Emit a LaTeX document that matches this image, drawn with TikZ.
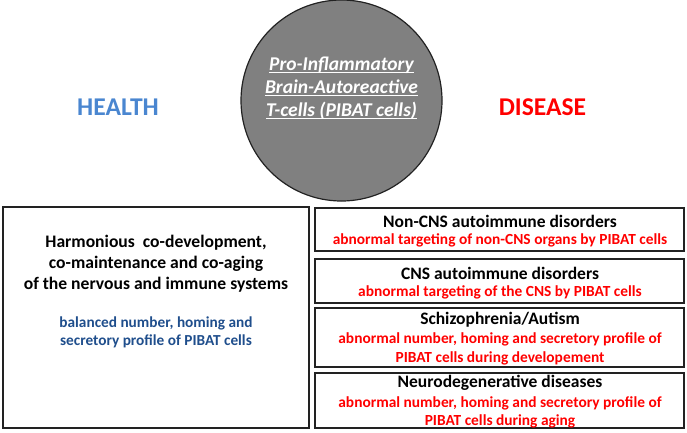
\documentclass[tikz,border=0pt]{standalone}
\usepackage{fontspec}
\setmainfont{Carlito}
\newcommand{\ulx}[1]{{\setbox0\hbox{#1}\rlap{\rule[-2.6pt]{\wd0}{1.1pt}}\box0}}
\definecolor{hblue}{HTML}{4A86D0}
\definecolor{dred}{HTML}{FF0000}
\definecolor{nblue}{HTML}{1F4E8C}
\definecolor{cgray}{HTML}{808080}
\definecolor{bord}{HTML}{222222}
\begin{document}
\begin{tikzpicture}[x=1pt,y=-1pt,
  box/.style={draw=bord,line width=1.8pt},
  ttl/.style={font=\bfseries\fontsize{17.5}{20}\selectfont,align=center,inner sep=0pt},
  redt/.style={font=\bfseries\fontsize{15.4}{18.5}\selectfont,text=dred,align=center,inner sep=0pt},
]
\useasboundingbox (0,0) rectangle (687,432);
% circle
\node[circle,draw=bord,line width=1.2pt,fill=cgray,minimum size=201pt,inner sep=0pt] (c) at (341.5,100.5) {};
\node[font=\bfseries\itshape\fontsize{19.5}{23}\selectfont,text=white,align=center,inner sep=0pt] (ct) at (341.5,88.5)
  {\ulx{Pro-Inflammatory}\\ \ulx{Brain-Autoreactive}\\ \ulx{T-cells (PIBAT cells)}};
% labels
\node[font=\bfseries\fontsize{25.6}{30}\selectfont,text=hblue,inner sep=0pt] (h) at (118,107) {HEALTH};
\node[font=\bfseries\fontsize{25.6}{30}\selectfont,text=dred,inner sep=0pt] (d) at (542.5,107) {DISEASE};
% left box
\draw[box] (3,207) rectangle (309,428);
\node[ttl,font=\bfseries\fontsize{17.6}{20.7}\selectfont] (lt) at (156,263.5) {Harmonious\ \ co-development,\\co-maintenance and co-aging\\of the nervous and immune systems};
\node[font=\bfseries\fontsize{15.3}{18}\selectfont,text=nblue,align=center,inner sep=0pt] (lb) at (156,332) {balanced number, homing and\\secretory profile of PIBAT cells};
% right boxes
\draw[box] (315,208) rectangle (684,251);
\draw[box] (315,259) rectangle (684,303);
\draw[box] (315,308) rectangle (684,367);
\draw[box] (315,373) rectangle (684,428);
\node[ttl] (t1) at (500,221) {Non-CNS autoimmune disorders};
\node[redt] (r1) at (500,240) {abnormal targeting of non-CNS organs by PIBAT cells};
\node[ttl] (t2) at (500,273) {CNS autoimmune disorders};
\node[redt] (r2) at (500,292) {abnormal targeting of the CNS by PIBAT cells};
\node[ttl] (t3) at (500,320) {Schizophrenia/Autism};
\node[redt] (r3) at (500,349) {abnormal number, homing and secretory profile of\\PIBAT cells during developement};
\node[ttl] (t4) at (500,383) {Neurodegenerative diseases};
\node[redt] (r4) at (500,412.5) {abnormal number, homing and secretory profile of\\PIBAT cells during aging};
\end{tikzpicture}
\end{document}
